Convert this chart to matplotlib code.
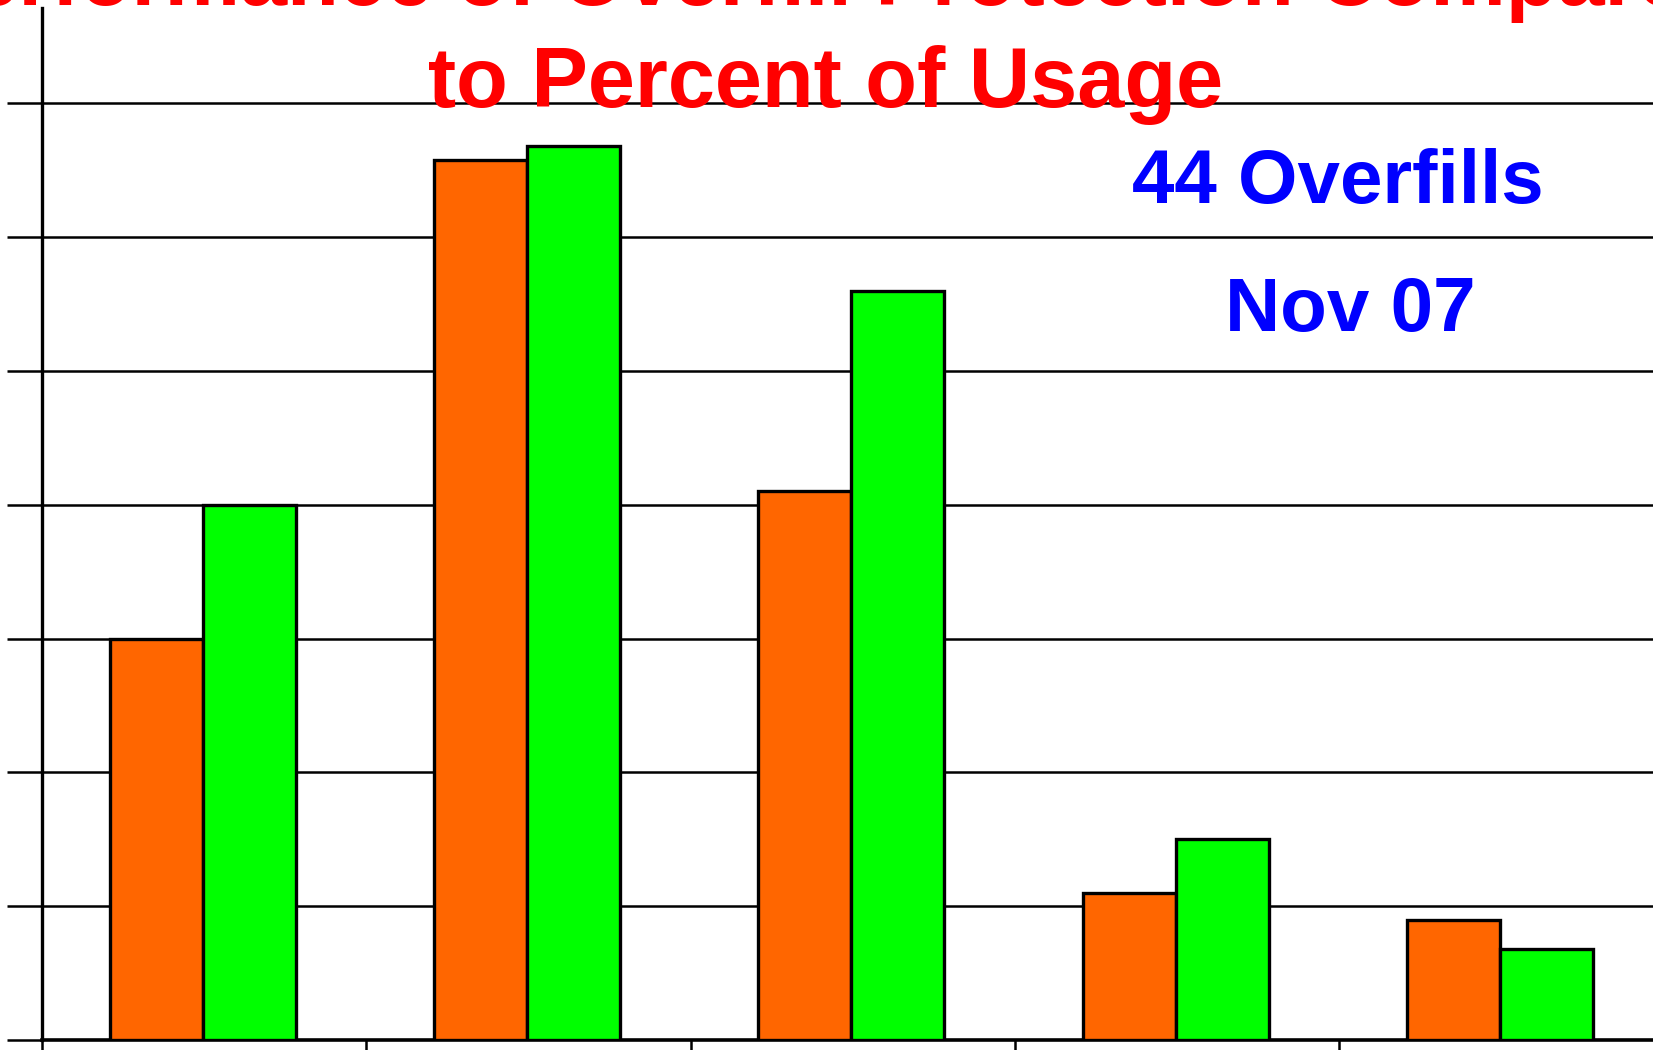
import numpy as np
import matplotlib
matplotlib.use("Agg")
import matplotlib.pyplot as plt

plt.rcParams['font.family'] = ['Liberation Sans', 'DejaVu Sans']

categories = ["A", "B", "C", "D", "E"]
pct_overfills = [15.0, 32.9, 20.5, 5.5, 4.5]
pct_usage = [20.0, 33.4, 28.0, 7.5, 3.4]

W, H = 1653, 1050
fig = plt.figure(figsize=(W / 100, H / 100), dpi=100)

left = 42.2 / W
bottom = 10 / H
ax = fig.add_axes([left, bottom, 1 - left, (1040 - 8) / H])

x = np.arange(len(categories)) + 0.495
bw = 0.287
ax.bar(x - bw / 2, pct_overfills, bw, color="#FF6600", edgecolor="black", linewidth=2.4, zorder=3)
ax.bar(x + bw / 2, pct_usage, bw, color="#00FF00", edgecolor="black", linewidth=2.4, zorder=3)

ax.set_xlim(0, (W - 42.2) / 324.3)
ax.set_ylim(0, 1032 / 133.8 * 5)

ax.set_yticks(np.arange(0, 36, 5))
ax.set_xticks(np.arange(0, 5))
ax.set_yticklabels([])
ax.set_xticklabels([])
ax.yaxis.grid(True, color="black", linewidth=1.8)
ax.set_axisbelow(True)
ax.tick_params(axis="y", direction="out", length=25, width=1.8, color="black")
ax.tick_params(axis="x", direction="out", length=12, width=1.8, color="black")

for s in ["top", "right"]:
    ax.spines[s].set_visible(False)
ax.spines["left"].set_linewidth(2.4)
ax.spines["bottom"].set_linewidth(2.6)

red = "#FF0000"
fig.text(826 / W, 1 - 5 / H, "Performance of Overfill Protection Compared",
         ha="center", va="baseline", color=red, fontsize=61, fontweight="bold")
fig.text(826 / W, 1 - 107 / H, "to Percent of Usage",
         ha="center", va="baseline", color=red, fontsize=61, fontweight="bold")

blue = "#0000FF"
fig.text(1337.5 / W, 1 - 203 / H, "44 Overfills",
         ha="center", va="baseline", color=blue, fontsize=55, fontweight="bold")
fig.text(1350 / W, 1 - 331 / H, "Nov 07",
         ha="center", va="baseline", color=blue, fontsize=55, fontweight="bold")

fig.savefig("out.png", dpi=100)
